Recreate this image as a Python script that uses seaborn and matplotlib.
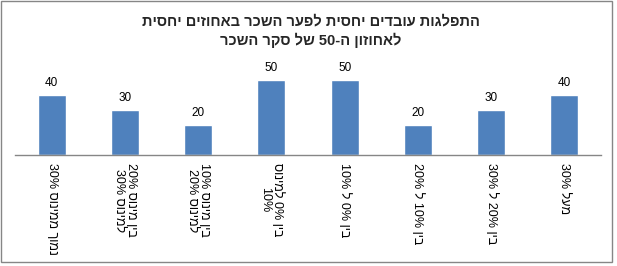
import re
import matplotlib
matplotlib.use("Agg")
import matplotlib.pyplot as plt
import seaborn as sns
import pandas as pd
from matplotlib.patches import Rectangle

# ---- data (logical Hebrew text) ----
title_line1 = "התפלגות עובדים יחסית לפער השכר באחוזים יחסית"
title_line2 = "לאחוזון ה-50 של סקר השכר"
categories = [
    "נמוך ממינוס 30%",
    "בין מינוס 20%\nלמינוס 30%",
    "בין מינוס 10%\nלמינוס 20%",
    "בין 0% למינוס\n10%",
    "בין 0% ל 10%",
    "בין 10% ל 20%",
    "בין 20% ל 30%",
    "מעל 30%",
]
values = [40, 30, 20, 50, 50, 20, 30, 40]


def visual(s):
    """Simple RTL -> visual ordering (numbers stay left-to-right)."""
    out = []
    for line in s.split("\n"):
        tokens = re.findall(r"[0-9][0-9%.]*|.", line)
        out.append("".join(reversed(tokens)))
    return "\n".join(out)


sns.set_theme(style="white")
plt.rcParams["font.family"] = ["Liberation Sans", "DejaVu Sans"]

vis_cats = [visual(c) for c in categories]
df = pd.DataFrame({"cat": vis_cats, "val": values})

W, H = 617, 266
fig = plt.figure(figsize=(W / 100, H / 100), dpi=100)
ax = fig.add_axes([15 / W, 1 - 155 / H, (601 - 15) / W, 90 / H])

sns.barplot(data=df, x="cat", y="val", color="#4F81BD", width=0.38,
            saturation=1, ax=ax)
ax.set_ylim(0, 60)
ax.set_xlim(-0.5, len(values) - 0.5)
ax.set_xlabel("")
ax.set_ylabel("")
ax.set_yticks([])
for sp in ["top", "left", "right"]:
    ax.spines[sp].set_visible(False)
ax.spines["bottom"].set_color("#868686")
ax.spines["bottom"].set_linewidth(1)
ax.tick_params(axis="x", length=0, pad=6)
ax.set_xticks(range(len(vis_cats)))
ax.set_xticklabels(vis_cats, rotation=270, ha="center", va="top",
                   multialignment="center", fontsize=9, color="black",
                   linespacing=1.05)

for cont in ax.containers:
    ax.bar_label(cont, fmt="%g", padding=4, fontsize=8.5, color="black")

fig.text(311 / W, 1 - 21 / H, visual(title_line1), ha="center", va="center",
         fontsize=10.5, fontweight="bold")
fig.text(311 / W, 1 - 40 / H, visual(title_line2), ha="center", va="center",
         fontsize=10.5, fontweight="bold")

fig.add_artist(Rectangle((1 / W, 4 / H), (612 - 1) / W, (H - 5) / H,
                         transform=fig.transFigure, fill=False,
                         edgecolor="#868686", linewidth=1))

fig.savefig("out.png", dpi=100, facecolor="white")
